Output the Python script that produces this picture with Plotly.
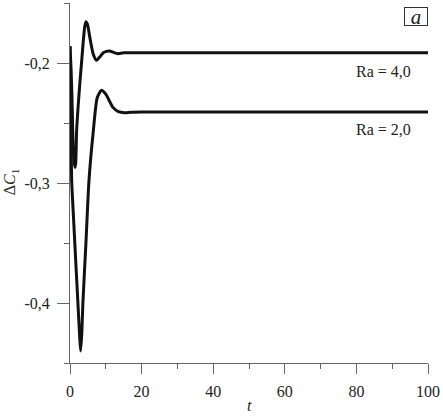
import plotly.graph_objects as go

# Ra = 4.0
t_ra4 = [0, 0.3, 0.55, 0.9, 1.2, 1.4, 1.6, 1.85, 2.3, 2.8, 3.3, 3.7, 4.1, 4.45, 4.9, 5.5, 6.5, 7.4, 8.3, 9.3, 10.2, 11.1, 12.2, 13.4, 15, 20, 40, 60, 80, 100]
c_ra4 = [-0.186, -0.205, -0.229, -0.2706, -0.283, -0.287, -0.283, -0.2567, -0.235, -0.215, -0.197, -0.182, -0.170, -0.1656, -0.168, -0.178, -0.1928, -0.1978, -0.195, -0.1914, -0.1903, -0.190, -0.1912, -0.1922, -0.1915, -0.1914, -0.1914, -0.1914, -0.1914, -0.1914]

# Ra = 2.0
t_ra2 = [0, 0.2, 0.47, 1.0, 1.67, 2.3, 2.7, 2.97, 3.3, 3.6, 4.45, 5.3, 6.5, 7.6, 8.8, 10.0, 12.0, 13.5, 15.3, 17, 20, 40, 60, 80, 100]
c_ra2 = [-0.186, -0.245, -0.298, -0.33, -0.369, -0.405, -0.428, -0.44, -0.425, -0.40, -0.35, -0.298, -0.257, -0.229, -0.2227, -0.226, -0.237, -0.2405, -0.2414, -0.241, -0.2408, -0.2408, -0.2408, -0.2408, -0.2408]

x_ticks = [0, 20, 40, 60, 80, 100]
x_ticktext = ["0", "20", "40", "60", "80", "100"]
x_minor = [10, 30, 50, 70, 90]
y_ticks = [-0.4, -0.3, -0.2]
y_ticktext = ["-0,4", "-0,3", "-0,2"]
y_minor = [-0.45, -0.35, -0.25, -0.15]

FONT = "Liberation Serif"
AX = "#666666"
TXT = "#222222"

fig = go.Figure()
for t, c in [(t_ra4, c_ra4), (t_ra2, c_ra2)]:
    fig.add_trace(go.Scatter(x=t, y=c, mode="lines",
                             line=dict(color="#111111", width=3, shape="spline", smoothing=0.6),
                             showlegend=False, hoverinfo="skip"))

fig.update_layout(
    width=443, height=416,
    margin=dict(l=70, r=13, t=3, b=53),
    plot_bgcolor="white", paper_bgcolor="white",
    font=dict(family=FONT, size=16, color=TXT),
    xaxis=dict(range=[0, 100], showgrid=False, zeroline=False, showline=True,
               linecolor=AX, linewidth=1, ticks="outside", ticklen=10, tickcolor=AX,
               tickmode="array", tickvals=x_ticks, ticktext=x_ticktext,
               ticklabelstandoff=4,
               minor=dict(tickmode="array", tickvals=x_minor, ticks="outside", ticklen=5, tickcolor=AX),
               tickfont=dict(family=FONT, size=16, color=TXT)),
    yaxis=dict(range=[-0.45, -0.15], showgrid=False, zeroline=False, showline=True,
               linecolor=AX, linewidth=1, ticks="outside", ticklen=12, tickcolor=AX,
               tickmode="array", tickvals=y_ticks, ticktext=y_ticktext,
               ticklabelstandoff=4,
               minor=dict(tickmode="array", tickvals=y_minor, ticks="outside", ticklen=5, tickcolor=AX),
               tickfont=dict(family=FONT, size=16, color=TXT)),
    annotations=[
        dict(text="<i>t</i>", xref="paper", yref="paper", x=(250 - 70) / 360, y=-42 / 360,
             showarrow=False, font=dict(family=FONT, size=16, color=TXT),
             xanchor="center", yanchor="middle"),
        dict(text="Δ<i>C</i><sub>1</sub>", xref="paper", yref="paper", x=-60 / 360, y=(363 - 182) / 360,
             showarrow=False, textangle=-90, font=dict(family=FONT, size=16, color=TXT),
             xanchor="center", yanchor="middle"),
        dict(text="<i>a</i>", xref="paper", yref="paper", x=1, y=1, yshift=-4,
             xanchor="right", yanchor="top", showarrow=False,
             bordercolor="#333333", borderwidth=1, borderpad=0, width=22, height=17,
             font=dict(family=FONT, size=21, color=TXT)),
        dict(text="Ra = 4,0", x=87.5, y=-0.2067, showarrow=False,
             font=dict(family=FONT, size=16, color=TXT)),
        dict(text="Ra = 2,0", x=87.5, y=-0.255, showarrow=False,
             font=dict(family=FONT, size=16, color=TXT)),
    ],
)

fig.write_html("out.html", config={"displayModeBar": False},
               post_script="document.body.style.margin='0';document.body.style.overflow='hidden';")
